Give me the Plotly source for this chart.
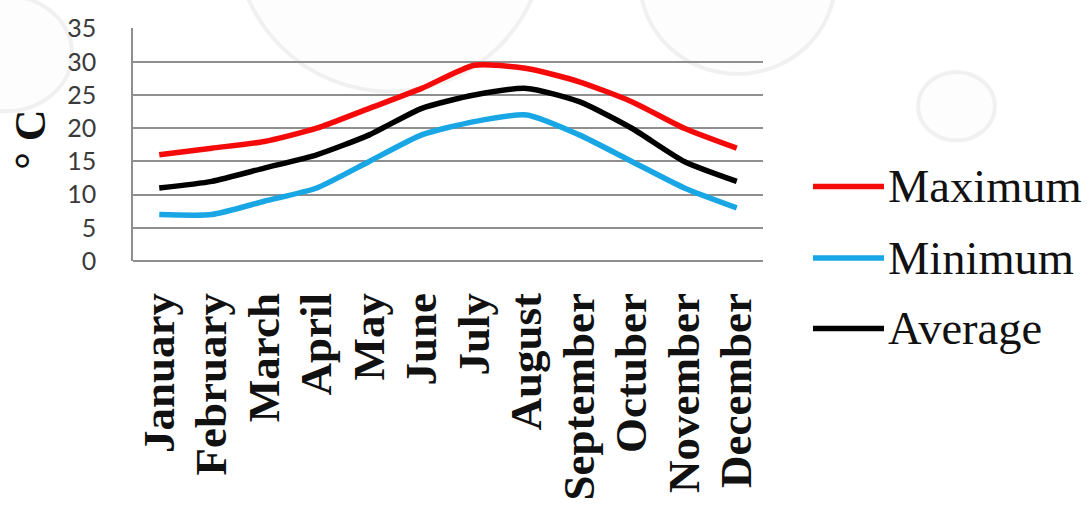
import plotly.graph_objects as go

# Monthly temperatures (°C)
months = ["January", "February", "March", "April", "May", "June", "July",
          "August", "September", "Octuber", "November", "December"]
maximum = [16, 17, 18, 20, 23, 26, 29.5, 29, 27, 24, 20, 17]
minimum = [7, 7, 9, 11, 15, 19, 21, 22, 19, 15, 11, 8]
average = [11, 12, 14, 16, 19, 23, 25, 26, 24, 20, 15, 12]

series_names = ["Maximum", "Minimum", "Average"]
series_values = [maximum, minimum, average]
series_colors = ["#f50a0a", "#18a6e4", "#000000"]

y_ticks = [0, 5, 10, 15, 20, 25, 30, 35]

fig = go.Figure()
for name, vals, col in zip(series_names, series_values, series_colors):
    fig.add_trace(go.Scatter(
        x=months, y=vals, name=name, mode="lines",
        line=dict(color=col, width=5.5, shape="spline", smoothing=0.6),
        showlegend=False,
    ))

# Faint water-drop decorations in the background
drops = [
    dict(x0=235, y0=-230, x1=545, y1=88),
    dict(x0=640, y0=-120, x1=835, y1=70),
    dict(x0=918, y0=68, x1=995, y1=138),
    dict(x0=-60, y0=-10, x1=72, y1=108),
]
shapes = []
for d in drops:
    shapes.append(dict(type="circle", xref="paper", yref="paper",
                       x0=(d["x0"] - 133) / 630, x1=(d["x1"] - 133) / 630,
                       y0=(261 - d["y1"]) / 238, y1=(261 - d["y0"]) / 238,
                       line=dict(color="rgba(215,215,215,0.35)", width=4),
                       fillcolor="rgba(250,250,250,0.3)", layer="below"))

# Custom legend: long line keys with large serif labels
legend_y = [185, 258, 330]
annotations = []
for name, col, ly in zip(series_names, series_colors, legend_y):
    yp = (261 - ly) / 238
    shapes.append(dict(type="line", xref="paper", yref="paper",
                       x0=(813 - 133) / 630, x1=(884 - 133) / 630, y0=yp, y1=yp,
                       line=dict(color=col, width=5.5)))
    annotations.append(dict(xref="paper", yref="paper", x=(886 - 133) / 630, y=yp,
                            text=name, showarrow=False, xanchor="left", yanchor="middle",
                            font=dict(family="Liberation Serif", size=46.5, color="#111111")))

# Y axis title
annotations.append(dict(xref="paper", yref="paper", x=(31 - 133) / 630, y=0.52,
                        text="<b>° C</b>", showarrow=False, textangle=-90,
                        xanchor="center", yanchor="middle",
                        font=dict(family="Liberation Serif", size=44, color="#111111")))

fig.update_layout(
    width=1090, height=512,
    margin=dict(l=133, r=327, t=22, b=251),
    paper_bgcolor="white", plot_bgcolor="rgba(0,0,0,0)",
    shapes=shapes, annotations=annotations,
    xaxis=dict(
        range=[-0.5, 11.5], showgrid=False, showline=False, zeroline=False,
        tickmode="array", tickvals=months, ticktext=months,
        tickangle=-90, ticklabelstandoff=22,
        tickfont=dict(family="Liberation Serif", size=45, color="#111111", weight="bold"),
    ),
    yaxis=dict(
        range=[0, 35.1], tickvals=y_ticks, showgrid=True, gridcolor="#8f8f8f", gridwidth=1.5,
        zeroline=True, zerolinecolor="#8f8f8f", zerolinewidth=1.5,
        showline=True, linecolor="#8f8f8f", linewidth=1.5,
        ticklabelstandoff=30,
        tickfont=dict(family="Lato", size=25, color="#3a3a3a"),
    ),
)

fig.write_html("out.html")
